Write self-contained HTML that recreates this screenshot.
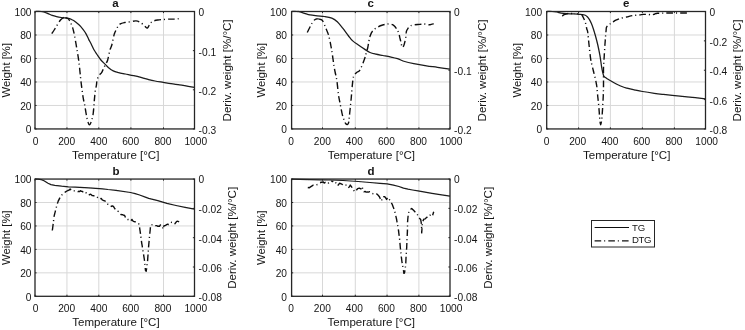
<!DOCTYPE html>
<html><head><meta charset="utf-8"><style>
html,body{margin:0;padding:0;background:#fff;}
svg{display:block;}
text{font-family:"Liberation Sans", sans-serif;fill:#151515;}
</style></head><body>
<svg width="745" height="330" viewBox="0 0 745 330">
<defs><filter id="bl" filterUnits="userSpaceOnUse" x="0" y="0" width="745" height="330"><feGaussianBlur stdDeviation="0.45"/></filter></defs>
<rect width="745" height="330" fill="#fff"/>
<g filter="url(#bl)">
<line x1="66.95" y1="11.5" x2="66.95" y2="128.95" stroke="#d8d8d8" stroke-width="1"/>
<line x1="35.0" y1="105.46" x2="194.5" y2="105.46" stroke="#d8d8d8" stroke-width="1"/>
<line x1="98.80" y1="11.5" x2="98.80" y2="128.95" stroke="#d8d8d8" stroke-width="1"/>
<line x1="35.0" y1="81.97" x2="194.5" y2="81.97" stroke="#d8d8d8" stroke-width="1"/>
<line x1="130.90" y1="11.5" x2="130.90" y2="128.95" stroke="#d8d8d8" stroke-width="1"/>
<line x1="35.0" y1="58.48" x2="194.5" y2="58.48" stroke="#d8d8d8" stroke-width="1"/>
<line x1="163.50" y1="11.5" x2="163.50" y2="128.95" stroke="#d8d8d8" stroke-width="1"/>
<line x1="35.0" y1="34.99" x2="194.5" y2="34.99" stroke="#d8d8d8" stroke-width="1"/>
<path d="M35.10,11.50 C36.08,11.50 39.52,11.42 41.00,11.50 C42.48,11.58 42.83,11.65 44.00,12.00 C45.17,12.35 46.63,13.03 48.00,13.60 C49.37,14.17 50.78,14.90 52.20,15.40 C53.62,15.90 54.98,16.25 56.50,16.60 C58.02,16.95 59.88,17.28 61.30,17.50 C62.72,17.72 63.80,17.75 65.00,17.90 C66.20,18.05 67.33,18.10 68.50,18.40 C69.67,18.70 70.92,19.18 72.00,19.70 C73.08,20.22 73.75,20.57 75.00,21.50 C76.25,22.43 78.10,23.90 79.50,25.30 C80.90,26.70 82.33,28.52 83.40,29.90 C84.47,31.28 85.03,32.07 85.90,33.60 C86.77,35.13 87.68,37.28 88.60,39.10 C89.52,40.92 90.48,42.68 91.40,44.50 C92.32,46.32 93.17,48.33 94.10,50.00 C95.03,51.67 95.87,52.83 97.00,54.50 C98.13,56.17 99.57,58.40 100.90,60.00 C102.23,61.60 103.72,62.82 105.00,64.10 C106.28,65.38 107.23,66.57 108.60,67.70 C109.97,68.83 111.53,70.08 113.20,70.90 C114.87,71.72 116.58,72.08 118.60,72.60 C120.62,73.12 122.78,73.48 125.30,74.00 C127.82,74.52 130.95,75.08 133.70,75.70 C136.45,76.32 139.30,77.05 141.80,77.70 C144.30,78.35 146.50,79.05 148.70,79.60 C150.90,80.15 152.57,80.53 155.00,81.00 C157.43,81.47 160.63,81.95 163.30,82.40 C165.97,82.85 168.28,83.28 171.00,83.70 C173.72,84.12 176.93,84.50 179.60,84.90 C182.27,85.30 184.53,85.70 187.00,86.10 C189.47,86.50 193.17,87.10 194.40,87.30" fill="none" stroke="#1a1a1a" stroke-width="1.25" stroke-linejoin="round"/>
<path id="dtga0" d="M51.80,33.60 C52.25,32.92 53.55,31.02 54.50,29.50 C55.45,27.98 56.50,26.08 57.50,24.50 C58.50,22.92 59.57,21.12 60.50,20.00 C61.43,18.88 62.27,18.20 63.10,17.80 C63.93,17.40 64.75,17.53 65.50,17.60" fill="none" stroke="#111" stroke-width="1.4" stroke-dasharray="6.6 2.9 1.1 3.1" stroke-dashoffset="0.00" stroke-linejoin="round"/>
<path id="dtga" d="M65.50,17.60 C66.25,17.67 66.93,17.72 67.60,18.20 C68.27,18.68 68.73,19.13 69.50,20.50 C70.27,21.87 71.45,24.32 72.20,26.40 C72.95,28.48 73.40,30.28 74.00,33.00 C74.60,35.72 75.27,39.70 75.80,42.70 C76.33,45.70 76.75,48.27 77.20,51.00 C77.65,53.73 78.10,56.27 78.50,59.10 C78.90,61.93 79.20,64.37 79.60,68.00 C80.00,71.63 80.32,76.02 80.90,80.90 C81.48,85.78 82.48,93.37 83.10,97.30 C83.72,101.23 84.08,101.70 84.60,104.50 C85.12,107.30 85.67,111.27 86.20,114.10 C86.73,116.93 87.27,119.73 87.80,121.50 C88.33,123.27 88.82,124.70 89.40,124.70 C89.98,124.70 90.68,123.27 91.30,121.50 C91.92,119.73 92.63,117.10 93.10,114.10 C93.57,111.10 93.85,106.30 94.10,103.50 C94.35,100.70 94.37,99.63 94.60,97.30 C94.83,94.97 95.20,91.47 95.50,89.50 C95.80,87.53 96.18,86.78 96.40,85.50 C96.62,84.22 96.58,83.02 96.80,81.80 C97.02,80.58 97.25,79.33 97.70,78.20 C98.15,77.07 98.82,75.98 99.50,75.00 C100.18,74.02 101.12,73.43 101.80,72.30 C102.48,71.17 102.92,69.65 103.60,68.20 C104.28,66.75 105.22,64.97 105.90,63.60 C106.58,62.23 107.05,62.18 107.70,60.00 C108.35,57.82 109.12,53.00 109.80,50.50 C110.48,48.00 111.13,47.45 111.80,45.00 C112.47,42.55 113.25,37.97 113.80,35.80 C114.35,33.63 114.50,33.42 115.10,32.00 C115.70,30.58 116.53,28.65 117.40,27.30 C118.27,25.95 119.08,24.70 120.30,23.90 C121.52,23.10 123.00,22.85 124.70,22.50 C126.40,22.15 128.62,22.07 130.50,21.80 C132.38,21.53 134.33,20.78 136.00,20.90 C137.67,21.02 139.07,21.65 140.50,22.50 C141.93,23.35 143.45,25.08 144.60,26.00 C145.75,26.92 146.55,28.30 147.40,28.00 C148.25,27.70 148.87,25.30 149.70,24.20 C150.53,23.10 151.05,22.10 152.40,21.40 C153.75,20.70 155.98,20.32 157.80,20.00 C159.62,19.68 161.48,19.65 163.30,19.50 C165.12,19.35 166.88,19.17 168.70,19.10 C170.52,19.03 172.53,19.17 174.20,19.10 C175.87,19.03 177.95,18.77 178.70,18.70" fill="none" stroke="#111" stroke-width="1.4" stroke-dasharray="6.6 2.9 1.1 3.1" stroke-dashoffset="1.00" stroke-linejoin="round"/>
<rect x="35.0" y="11.5" width="159.50" height="117.45" fill="none" stroke="#262626" stroke-width="1.3"/>
<line x1="35.00" y1="128.95" x2="35.00" y2="127.35" stroke="#262626" stroke-width="1"/>
<line x1="35.00" y1="11.5" x2="35.00" y2="13.1" stroke="#262626" stroke-width="1"/>
<line x1="35.0" y1="128.95" x2="36.6" y2="128.95" stroke="#262626" stroke-width="1"/>
<line x1="66.95" y1="128.95" x2="66.95" y2="127.35" stroke="#262626" stroke-width="1"/>
<line x1="66.95" y1="11.5" x2="66.95" y2="13.1" stroke="#262626" stroke-width="1"/>
<line x1="35.0" y1="105.46" x2="36.6" y2="105.46" stroke="#262626" stroke-width="1"/>
<line x1="98.80" y1="128.95" x2="98.80" y2="127.35" stroke="#262626" stroke-width="1"/>
<line x1="98.80" y1="11.5" x2="98.80" y2="13.1" stroke="#262626" stroke-width="1"/>
<line x1="35.0" y1="81.97" x2="36.6" y2="81.97" stroke="#262626" stroke-width="1"/>
<line x1="130.90" y1="128.95" x2="130.90" y2="127.35" stroke="#262626" stroke-width="1"/>
<line x1="130.90" y1="11.5" x2="130.90" y2="13.1" stroke="#262626" stroke-width="1"/>
<line x1="35.0" y1="58.48" x2="36.6" y2="58.48" stroke="#262626" stroke-width="1"/>
<line x1="163.50" y1="128.95" x2="163.50" y2="127.35" stroke="#262626" stroke-width="1"/>
<line x1="163.50" y1="11.5" x2="163.50" y2="13.1" stroke="#262626" stroke-width="1"/>
<line x1="35.0" y1="34.99" x2="36.6" y2="34.99" stroke="#262626" stroke-width="1"/>
<line x1="194.50" y1="128.95" x2="194.50" y2="127.35" stroke="#262626" stroke-width="1"/>
<line x1="194.50" y1="11.5" x2="194.50" y2="13.1" stroke="#262626" stroke-width="1"/>
<line x1="35.0" y1="11.50" x2="36.6" y2="11.50" stroke="#262626" stroke-width="1"/>
<line x1="194.5" y1="11.50" x2="192.9" y2="11.50" stroke="#262626" stroke-width="1"/>
<line x1="194.5" y1="50.65" x2="192.9" y2="50.65" stroke="#262626" stroke-width="1"/>
<line x1="194.5" y1="89.80" x2="192.9" y2="89.80" stroke="#262626" stroke-width="1"/>
<line x1="194.5" y1="128.95" x2="192.9" y2="128.95" stroke="#262626" stroke-width="1"/>
<text x="35.60" y="144.55" font-size="10.2" text-anchor="middle">0</text>
<text x="31.50" y="133.35" font-size="10.2" text-anchor="end">0</text>
<text x="66.70" y="144.55" font-size="10.2" text-anchor="middle">200</text>
<text x="31.50" y="109.86" font-size="10.2" text-anchor="end">20</text>
<text x="98.85" y="144.55" font-size="10.2" text-anchor="middle">400</text>
<text x="31.50" y="86.37" font-size="10.2" text-anchor="end">40</text>
<text x="130.70" y="144.55" font-size="10.2" text-anchor="middle">600</text>
<text x="31.50" y="62.88" font-size="10.2" text-anchor="end">60</text>
<text x="162.90" y="144.55" font-size="10.2" text-anchor="middle">800</text>
<text x="31.50" y="39.39" font-size="10.2" text-anchor="end">80</text>
<text x="195.80" y="144.55" font-size="10.2" text-anchor="middle">1000</text>
<text x="31.50" y="15.90" font-size="10.2" text-anchor="end">100</text>
<text x="198.60" y="15.90" font-size="10.2" text-anchor="start">0</text>
<text x="198.60" y="55.65" font-size="10.2" text-anchor="start">-0.1</text>
<text x="198.60" y="94.80" font-size="10.2" text-anchor="start">-0.2</text>
<text x="198.60" y="133.95" font-size="10.2" text-anchor="start">-0.3</text>
<text x="115.70" y="158.85" font-size="11.55" text-anchor="middle">Temperature [°C]</text>
<text x="10.30" y="70.22" font-size="11.35" text-anchor="middle" transform="rotate(-90 10.30 70.22)">Weight [%]</text>
<text x="231.10" y="70.42" font-size="11.55" text-anchor="middle" transform="rotate(-90 231.10 70.42)">Deriv. weight [%/°C]</text>
<text x="115.35" y="7.20" font-size="11.5" text-anchor="middle" font-weight="bold">a</text>
<line x1="322.50" y1="11.5" x2="322.50" y2="128.95" stroke="#d8d8d8" stroke-width="1"/>
<line x1="291.6" y1="105.46" x2="450.0" y2="105.46" stroke="#d8d8d8" stroke-width="1"/>
<line x1="355.30" y1="11.5" x2="355.30" y2="128.95" stroke="#d8d8d8" stroke-width="1"/>
<line x1="291.6" y1="81.97" x2="450.0" y2="81.97" stroke="#d8d8d8" stroke-width="1"/>
<line x1="387.05" y1="11.5" x2="387.05" y2="128.95" stroke="#d8d8d8" stroke-width="1"/>
<line x1="291.6" y1="58.48" x2="450.0" y2="58.48" stroke="#d8d8d8" stroke-width="1"/>
<line x1="418.90" y1="11.5" x2="418.90" y2="128.95" stroke="#d8d8d8" stroke-width="1"/>
<line x1="291.6" y1="34.99" x2="450.0" y2="34.99" stroke="#d8d8d8" stroke-width="1"/>
<path d="M291.40,11.50 C292.33,11.50 295.72,11.47 297.00,11.50 C298.28,11.53 297.85,11.40 299.10,11.70 C300.35,12.00 302.68,12.77 304.50,13.30 C306.32,13.83 307.87,14.48 310.00,14.90 C312.13,15.32 314.88,15.53 317.30,15.80 C319.72,16.07 322.08,16.10 324.50,16.50 C326.92,16.90 329.67,17.32 331.80,18.20 C333.93,19.08 335.48,20.13 337.30,21.80 C339.12,23.47 340.88,25.92 342.70,28.20 C344.52,30.48 346.53,33.38 348.20,35.50 C349.87,37.62 350.88,39.23 352.70,40.90 C354.52,42.57 357.13,44.13 359.10,45.50 C361.07,46.87 362.68,47.93 364.50,49.10 C366.32,50.27 368.08,51.65 370.00,52.50 C371.92,53.35 373.85,53.70 376.00,54.20 C378.15,54.70 380.53,55.05 382.90,55.50 C385.27,55.95 387.77,56.37 390.20,56.90 C392.63,57.43 395.08,57.93 397.50,58.70 C399.92,59.47 401.98,60.68 404.70,61.50 C407.42,62.32 410.17,62.88 413.80,63.60 C417.43,64.32 422.55,65.18 426.50,65.80 C430.45,66.42 433.60,66.73 437.50,67.30 C441.40,67.87 447.83,68.88 449.90,69.20" fill="none" stroke="#1a1a1a" stroke-width="1.25" stroke-linejoin="round"/>
<path id="dtgc0" d="M307.30,32.50 C307.67,31.75 308.75,29.50 309.50,28.00 C310.25,26.50 310.97,24.85 311.80,23.50 C312.63,22.15 313.77,20.65 314.50,19.90 C315.23,19.15 315.58,19.17 316.20,19.00 C316.82,18.83 317.53,18.83 318.20,18.90" fill="none" stroke="#111" stroke-width="1.4" stroke-dasharray="6.6 2.9 1.1 3.1" stroke-dashoffset="0.00" stroke-linejoin="round"/>
<path id="dtgc" d="M318.20,18.90 C318.87,18.97 319.48,19.12 320.20,19.40 C320.92,19.68 321.60,19.23 322.50,20.60 C323.40,21.97 324.58,25.17 325.60,27.60 C326.62,30.03 327.72,32.17 328.60,35.20 C329.48,38.23 330.27,42.53 330.90,45.80 C331.53,49.07 331.90,51.52 332.40,54.80 C332.90,58.08 333.45,62.63 333.90,65.50 C334.35,68.37 334.60,69.43 335.10,72.00 C335.60,74.57 336.33,77.07 336.90,80.90 C337.47,84.73 337.97,91.23 338.50,95.00 C339.03,98.77 339.48,100.32 340.10,103.50 C340.72,106.68 341.50,111.27 342.20,114.10 C342.90,116.93 343.73,118.93 344.30,120.50 C344.87,122.07 345.10,122.82 345.60,123.50 C346.10,124.18 346.82,124.68 347.30,124.60 C347.78,124.52 348.22,123.68 348.50,123.00 C348.78,122.32 348.82,121.98 349.00,120.50 C349.18,119.02 349.32,116.93 349.60,114.10 C349.88,111.27 350.38,106.68 350.70,103.50 C351.02,100.32 351.22,98.17 351.50,95.00 C351.78,91.83 352.05,87.60 352.40,84.50 C352.75,81.40 352.93,78.37 353.60,76.40 C354.27,74.43 355.33,73.77 356.40,72.70 C357.47,71.63 358.65,72.27 360.00,70.00 C361.35,67.73 363.42,62.10 364.50,59.10 C365.58,56.10 365.95,53.93 366.50,52.00 C367.05,50.07 367.38,49.38 367.80,47.50 C368.22,45.62 368.60,42.65 369.00,40.70 C369.40,38.75 369.60,37.42 370.20,35.80 C370.80,34.18 371.58,32.30 372.60,31.00 C373.62,29.70 374.88,28.92 376.30,28.00 C377.72,27.08 379.48,26.12 381.10,25.50 C382.72,24.88 384.58,24.57 386.00,24.30 C387.42,24.03 388.55,23.85 389.60,23.90 C390.65,23.95 391.55,24.30 392.30,24.60 C393.05,24.90 393.38,25.00 394.10,25.70 C394.82,26.40 395.83,27.58 396.60,28.80 C397.37,30.02 398.18,31.62 398.70,33.00 C399.22,34.38 399.35,35.65 399.70,37.10 C400.05,38.55 400.37,39.98 400.80,41.70 C401.23,43.42 401.78,46.80 402.30,47.40 C402.82,48.00 403.47,46.25 403.90,45.30 C404.33,44.35 404.57,43.15 404.90,41.70 C405.23,40.25 405.65,38.32 405.90,36.60 C406.15,34.88 406.05,32.78 406.40,31.40 C406.75,30.02 407.30,29.25 408.00,28.30 C408.70,27.35 409.48,26.30 410.60,25.70 C411.72,25.10 413.17,24.92 414.70,24.70 C416.23,24.48 418.25,24.52 419.80,24.40 C421.35,24.28 422.72,23.97 424.00,24.00 C425.28,24.03 426.50,24.47 427.50,24.60 C428.50,24.73 429.25,24.88 430.00,24.80 C430.75,24.72 431.37,24.25 432.00,24.10 C432.63,23.95 433.50,23.93 433.80,23.90" fill="none" stroke="#111" stroke-width="1.4" stroke-dasharray="6.6 2.9 1.1 3.1" stroke-dashoffset="0.00" stroke-linejoin="round"/>
<rect x="291.6" y="11.5" width="158.40" height="117.45" fill="none" stroke="#262626" stroke-width="1.3"/>
<line x1="291.60" y1="128.95" x2="291.60" y2="127.35" stroke="#262626" stroke-width="1"/>
<line x1="291.60" y1="11.5" x2="291.60" y2="13.1" stroke="#262626" stroke-width="1"/>
<line x1="291.6" y1="128.95" x2="293.20000000000005" y2="128.95" stroke="#262626" stroke-width="1"/>
<line x1="322.50" y1="128.95" x2="322.50" y2="127.35" stroke="#262626" stroke-width="1"/>
<line x1="322.50" y1="11.5" x2="322.50" y2="13.1" stroke="#262626" stroke-width="1"/>
<line x1="291.6" y1="105.46" x2="293.20000000000005" y2="105.46" stroke="#262626" stroke-width="1"/>
<line x1="355.30" y1="128.95" x2="355.30" y2="127.35" stroke="#262626" stroke-width="1"/>
<line x1="355.30" y1="11.5" x2="355.30" y2="13.1" stroke="#262626" stroke-width="1"/>
<line x1="291.6" y1="81.97" x2="293.20000000000005" y2="81.97" stroke="#262626" stroke-width="1"/>
<line x1="387.05" y1="128.95" x2="387.05" y2="127.35" stroke="#262626" stroke-width="1"/>
<line x1="387.05" y1="11.5" x2="387.05" y2="13.1" stroke="#262626" stroke-width="1"/>
<line x1="291.6" y1="58.48" x2="293.20000000000005" y2="58.48" stroke="#262626" stroke-width="1"/>
<line x1="418.90" y1="128.95" x2="418.90" y2="127.35" stroke="#262626" stroke-width="1"/>
<line x1="418.90" y1="11.5" x2="418.90" y2="13.1" stroke="#262626" stroke-width="1"/>
<line x1="291.6" y1="34.99" x2="293.20000000000005" y2="34.99" stroke="#262626" stroke-width="1"/>
<line x1="450.00" y1="128.95" x2="450.00" y2="127.35" stroke="#262626" stroke-width="1"/>
<line x1="450.00" y1="11.5" x2="450.00" y2="13.1" stroke="#262626" stroke-width="1"/>
<line x1="291.6" y1="11.50" x2="293.20000000000005" y2="11.50" stroke="#262626" stroke-width="1"/>
<line x1="450.0" y1="11.50" x2="448.4" y2="11.50" stroke="#262626" stroke-width="1"/>
<line x1="450.0" y1="70.22" x2="448.4" y2="70.22" stroke="#262626" stroke-width="1"/>
<line x1="450.0" y1="128.95" x2="448.4" y2="128.95" stroke="#262626" stroke-width="1"/>
<text x="291.10" y="144.55" font-size="10.2" text-anchor="middle">0</text>
<text x="287.00" y="133.35" font-size="10.2" text-anchor="end">0</text>
<text x="322.35" y="144.55" font-size="10.2" text-anchor="middle">200</text>
<text x="287.00" y="109.86" font-size="10.2" text-anchor="end">20</text>
<text x="354.30" y="144.55" font-size="10.2" text-anchor="middle">400</text>
<text x="287.00" y="86.37" font-size="10.2" text-anchor="end">40</text>
<text x="386.40" y="144.55" font-size="10.2" text-anchor="middle">600</text>
<text x="287.00" y="62.88" font-size="10.2" text-anchor="end">60</text>
<text x="418.50" y="144.55" font-size="10.2" text-anchor="middle">800</text>
<text x="287.00" y="39.39" font-size="10.2" text-anchor="end">80</text>
<text x="451.10" y="144.55" font-size="10.2" text-anchor="middle">1000</text>
<text x="287.00" y="15.90" font-size="10.2" text-anchor="end">100</text>
<text x="454.10" y="15.90" font-size="10.2" text-anchor="start">0</text>
<text x="454.10" y="75.22" font-size="10.2" text-anchor="start">-0.1</text>
<text x="454.10" y="133.95" font-size="10.2" text-anchor="start">-0.2</text>
<text x="371.35" y="158.85" font-size="11.55" text-anchor="middle">Temperature [°C]</text>
<text x="265.20" y="70.22" font-size="11.35" text-anchor="middle" transform="rotate(-90 265.20 70.22)">Weight [%]</text>
<text x="485.90" y="70.42" font-size="11.55" text-anchor="middle" transform="rotate(-90 485.90 70.42)">Deriv. weight [%/°C]</text>
<text x="370.80" y="7.20" font-size="11.5" text-anchor="middle" font-weight="bold">c</text>
<line x1="578.60" y1="11.5" x2="578.60" y2="128.95" stroke="#d8d8d8" stroke-width="1"/>
<line x1="546.7" y1="105.46" x2="705.5" y2="105.46" stroke="#d8d8d8" stroke-width="1"/>
<line x1="610.40" y1="11.5" x2="610.40" y2="128.95" stroke="#d8d8d8" stroke-width="1"/>
<line x1="546.7" y1="81.97" x2="705.5" y2="81.97" stroke="#d8d8d8" stroke-width="1"/>
<line x1="642.40" y1="11.5" x2="642.40" y2="128.95" stroke="#d8d8d8" stroke-width="1"/>
<line x1="546.7" y1="58.48" x2="705.5" y2="58.48" stroke="#d8d8d8" stroke-width="1"/>
<line x1="674.40" y1="11.5" x2="674.40" y2="128.95" stroke="#d8d8d8" stroke-width="1"/>
<line x1="546.7" y1="34.99" x2="705.5" y2="34.99" stroke="#d8d8d8" stroke-width="1"/>
<path d="M546.70,11.50 C547.58,11.50 550.32,11.42 552.00,11.50 C553.68,11.58 555.28,11.73 556.80,12.00 C558.32,12.27 559.48,12.82 561.10,13.10 C562.72,13.38 564.68,13.57 566.50,13.70 C568.32,13.83 570.20,13.83 572.00,13.90 C573.80,13.97 575.75,14.00 577.30,14.10 C578.85,14.20 580.07,14.35 581.30,14.50 C582.53,14.65 583.70,14.63 584.70,15.00 C585.70,15.37 586.53,15.98 587.30,16.70 C588.07,17.42 588.63,18.20 589.30,19.30 C589.97,20.40 590.63,21.73 591.30,23.30 C591.97,24.87 592.60,26.58 593.30,28.70 C594.00,30.82 594.75,33.28 595.50,36.00 C596.25,38.72 597.05,41.68 597.80,45.00 C598.55,48.32 599.37,52.27 600.00,55.90 C600.63,59.53 601.15,64.07 601.60,66.80 C602.05,69.53 602.33,70.75 602.70,72.30 C603.07,73.85 603.33,75.22 603.80,76.10 C604.27,76.98 604.88,77.12 605.50,77.60 C606.12,78.08 606.58,78.43 607.50,79.00 C608.42,79.57 609.45,80.13 611.00,81.00 C612.55,81.87 614.77,83.20 616.80,84.20 C618.83,85.20 621.50,86.35 623.20,87.00 C624.90,87.65 625.15,87.63 627.00,88.10 C628.85,88.57 631.72,89.23 634.30,89.80 C636.88,90.37 639.17,90.92 642.50,91.50 C645.83,92.08 650.82,92.82 654.30,93.30 C657.78,93.78 660.02,94.02 663.40,94.40 C666.78,94.78 670.67,95.18 674.60,95.60 C678.53,96.02 681.85,96.37 687.00,96.90 C692.15,97.43 702.42,98.48 705.50,98.80" fill="none" stroke="#1a1a1a" stroke-width="1.25" stroke-linejoin="round"/>
<path id="dtge0" d="M562.30,16.10 C562.60,15.85 563.05,15.03 564.10,14.60 C565.15,14.17 566.93,13.67 568.60,13.50 C570.27,13.33 572.12,13.52 574.10,13.60" fill="none" stroke="#111" stroke-width="1.4" stroke-dasharray="6.6 2.9 1.1 3.1" stroke-dashoffset="0.00" stroke-linejoin="round"/>
<path id="dtge" d="M574.10,13.60 C576.08,13.68 579.12,13.63 580.50,14.00 C581.88,14.37 581.82,14.97 582.40,15.80 C582.98,16.63 583.47,17.75 584.00,19.00 C584.53,20.25 585.13,21.63 585.60,23.30 C586.07,24.97 586.45,27.55 586.80,29.00 C587.15,30.45 587.32,29.25 587.70,32.00 C588.08,34.75 588.60,40.97 589.10,45.50 C589.60,50.03 590.15,55.65 590.70,59.20 C591.25,62.75 591.85,64.43 592.40,66.80 C592.95,69.17 593.47,71.22 594.00,73.40 C594.53,75.58 595.13,77.73 595.60,79.90 C596.07,82.07 596.47,83.88 596.80,86.40 C597.13,88.92 597.30,91.98 597.60,95.00 C597.90,98.02 598.30,101.32 598.60,104.50 C598.90,107.68 599.18,111.35 599.40,114.10 C599.62,116.85 599.68,119.22 599.90,121.00 C600.12,122.78 600.43,124.80 600.70,124.80 C600.97,124.80 601.25,122.78 601.50,121.00 C601.75,119.22 601.98,116.85 602.20,114.10 C602.42,111.35 602.62,107.68 602.80,104.50 C602.98,101.32 603.18,98.02 603.30,95.00 C603.42,91.98 603.47,89.65 603.50,86.40 C603.53,83.15 603.50,78.68 603.50,75.50 C603.50,72.32 603.40,70.20 603.50,67.30 C603.60,64.40 603.87,61.82 604.10,58.10 C604.33,54.38 604.65,48.68 604.90,45.00 C605.15,41.32 605.40,38.42 605.60,36.00 C605.80,33.58 605.95,31.95 606.10,30.50 C606.25,29.05 606.05,28.25 606.50,27.30 C606.95,26.35 608.08,25.45 608.80,24.80 C609.52,24.15 610.17,23.82 610.80,23.40 C611.43,22.98 611.77,22.83 612.60,22.30 C613.43,21.77 614.62,20.82 615.80,20.20 C616.98,19.58 618.50,19.02 619.70,18.60 C620.90,18.18 621.82,17.97 623.00,17.70 C624.18,17.43 625.67,17.27 626.80,17.00 C627.93,16.73 628.72,16.35 629.80,16.10 C630.88,15.85 632.18,15.65 633.30,15.50 C634.42,15.35 635.38,15.30 636.50,15.20 C637.62,15.10 638.83,15.03 640.00,14.90 C641.17,14.77 642.10,14.48 643.50,14.40 C644.90,14.32 647.05,14.30 648.40,14.40 C649.75,14.50 650.53,15.07 651.60,15.00 C652.67,14.93 653.85,14.28 654.80,14.00 C655.75,13.72 655.87,13.45 657.30,13.30 C658.73,13.15 660.87,13.15 663.40,13.10 C665.93,13.05 669.48,13.02 672.50,13.00 C675.52,12.98 678.77,13.00 681.50,13.00 C684.23,13.00 687.67,13.00 688.90,13.00" fill="none" stroke="#111" stroke-width="1.4" stroke-dasharray="6.6 2.9 1.1 3.1" stroke-dashoffset="6.35" stroke-linejoin="round"/>
<rect x="546.7" y="11.5" width="158.80" height="117.45" fill="none" stroke="#262626" stroke-width="1.3"/>
<line x1="546.70" y1="128.95" x2="546.70" y2="127.35" stroke="#262626" stroke-width="1"/>
<line x1="546.70" y1="11.5" x2="546.70" y2="13.1" stroke="#262626" stroke-width="1"/>
<line x1="546.7" y1="128.95" x2="548.3000000000001" y2="128.95" stroke="#262626" stroke-width="1"/>
<line x1="578.60" y1="128.95" x2="578.60" y2="127.35" stroke="#262626" stroke-width="1"/>
<line x1="578.60" y1="11.5" x2="578.60" y2="13.1" stroke="#262626" stroke-width="1"/>
<line x1="546.7" y1="105.46" x2="548.3000000000001" y2="105.46" stroke="#262626" stroke-width="1"/>
<line x1="610.40" y1="128.95" x2="610.40" y2="127.35" stroke="#262626" stroke-width="1"/>
<line x1="610.40" y1="11.5" x2="610.40" y2="13.1" stroke="#262626" stroke-width="1"/>
<line x1="546.7" y1="81.97" x2="548.3000000000001" y2="81.97" stroke="#262626" stroke-width="1"/>
<line x1="642.40" y1="128.95" x2="642.40" y2="127.35" stroke="#262626" stroke-width="1"/>
<line x1="642.40" y1="11.5" x2="642.40" y2="13.1" stroke="#262626" stroke-width="1"/>
<line x1="546.7" y1="58.48" x2="548.3000000000001" y2="58.48" stroke="#262626" stroke-width="1"/>
<line x1="674.40" y1="128.95" x2="674.40" y2="127.35" stroke="#262626" stroke-width="1"/>
<line x1="674.40" y1="11.5" x2="674.40" y2="13.1" stroke="#262626" stroke-width="1"/>
<line x1="546.7" y1="34.99" x2="548.3000000000001" y2="34.99" stroke="#262626" stroke-width="1"/>
<line x1="705.50" y1="128.95" x2="705.50" y2="127.35" stroke="#262626" stroke-width="1"/>
<line x1="705.50" y1="11.5" x2="705.50" y2="13.1" stroke="#262626" stroke-width="1"/>
<line x1="546.7" y1="11.50" x2="548.3000000000001" y2="11.50" stroke="#262626" stroke-width="1"/>
<line x1="705.5" y1="11.50" x2="703.9" y2="11.50" stroke="#262626" stroke-width="1"/>
<line x1="705.5" y1="40.86" x2="703.9" y2="40.86" stroke="#262626" stroke-width="1"/>
<line x1="705.5" y1="70.22" x2="703.9" y2="70.22" stroke="#262626" stroke-width="1"/>
<line x1="705.5" y1="99.59" x2="703.9" y2="99.59" stroke="#262626" stroke-width="1"/>
<line x1="705.5" y1="128.95" x2="703.9" y2="128.95" stroke="#262626" stroke-width="1"/>
<text x="546.50" y="144.55" font-size="10.2" text-anchor="middle">0</text>
<text x="542.10" y="133.35" font-size="10.2" text-anchor="end">0</text>
<text x="577.70" y="144.55" font-size="10.2" text-anchor="middle">200</text>
<text x="542.10" y="109.86" font-size="10.2" text-anchor="end">20</text>
<text x="609.90" y="144.55" font-size="10.2" text-anchor="middle">400</text>
<text x="542.10" y="86.37" font-size="10.2" text-anchor="end">40</text>
<text x="641.70" y="144.55" font-size="10.2" text-anchor="middle">600</text>
<text x="542.10" y="62.88" font-size="10.2" text-anchor="end">60</text>
<text x="673.90" y="144.55" font-size="10.2" text-anchor="middle">800</text>
<text x="542.10" y="39.39" font-size="10.2" text-anchor="end">80</text>
<text x="706.70" y="144.55" font-size="10.2" text-anchor="middle">1000</text>
<text x="542.10" y="15.90" font-size="10.2" text-anchor="end">100</text>
<text x="709.60" y="15.90" font-size="10.2" text-anchor="start">0</text>
<text x="709.60" y="45.86" font-size="10.2" text-anchor="start">-0.2</text>
<text x="709.60" y="75.22" font-size="10.2" text-anchor="start">-0.4</text>
<text x="709.60" y="104.59" font-size="10.2" text-anchor="start">-0.6</text>
<text x="709.60" y="133.95" font-size="10.2" text-anchor="start">-0.8</text>
<text x="626.65" y="158.85" font-size="11.55" text-anchor="middle">Temperature [°C]</text>
<text x="520.80" y="70.22" font-size="11.35" text-anchor="middle" transform="rotate(-90 520.80 70.22)">Weight [%]</text>
<text x="741.30" y="70.42" font-size="11.55" text-anchor="middle" transform="rotate(-90 741.30 70.42)">Deriv. weight [%/°C]</text>
<text x="626.10" y="7.20" font-size="11.5" text-anchor="middle" font-weight="bold">e</text>
<line x1="66.95" y1="179.05" x2="66.95" y2="296.3" stroke="#d8d8d8" stroke-width="1"/>
<line x1="35.0" y1="272.85" x2="194.5" y2="272.85" stroke="#d8d8d8" stroke-width="1"/>
<line x1="98.80" y1="179.05" x2="98.80" y2="296.3" stroke="#d8d8d8" stroke-width="1"/>
<line x1="35.0" y1="249.40" x2="194.5" y2="249.40" stroke="#d8d8d8" stroke-width="1"/>
<line x1="130.90" y1="179.05" x2="130.90" y2="296.3" stroke="#d8d8d8" stroke-width="1"/>
<line x1="35.0" y1="225.95" x2="194.5" y2="225.95" stroke="#d8d8d8" stroke-width="1"/>
<line x1="163.50" y1="179.05" x2="163.50" y2="296.3" stroke="#d8d8d8" stroke-width="1"/>
<line x1="35.0" y1="202.50" x2="194.5" y2="202.50" stroke="#d8d8d8" stroke-width="1"/>
<path d="M35.00,179.05 L38.00,179.10 L41.30,179.60 L44.00,180.80 L48.00,183.20 L51.00,184.60 L54.80,185.40 L61.60,186.20 L68.50,186.80 L75.30,187.20 L88.90,187.80 L102.60,188.80 L108.00,189.50 L116.00,190.30 L130.50,192.50 L135.10,193.60 L139.60,195.00 L146.00,197.30 L148.70,198.40 L157.80,200.60 L166.90,203.40 L176.00,205.50 L185.10,207.40 L194.50,209.20" fill="none" stroke="#1a1a1a" stroke-width="1.25" stroke-linejoin="round"/>
<path id="dtgb0" d="M52.30,230.50 L52.80,227.00 L54.10,216.10 L55.50,210.60 L56.90,205.20 L58.20,201.10 L60.30,197.00 L62.30,194.30 L65.10,192.20 L67.80,190.50 L69.50,189.80 L70.20,188.60" fill="none" stroke="#111" stroke-width="1.4" stroke-dasharray="6.6 2.9 1.1 3.1" stroke-dashoffset="0.00" stroke-linejoin="round"/>
<path id="dtgb" d="M70.20,188.60 L70.90,189.90 L73.20,190.90 L74.13,190.83 L75.07,191.56 L76.00,191.80 L76.90,191.45 L77.80,191.61 L78.70,191.30 L79.60,191.48 L80.50,190.69 L81.40,191.30 L82.45,191.42 L83.50,192.90 L84.50,193.27 L85.50,192.70 L86.55,193.01 L87.60,194.00 L88.50,193.69 L89.40,194.83 L90.30,194.20 L91.20,194.63 L92.10,195.60 L93.00,195.60 L93.90,195.80 L94.80,196.26 L95.70,196.30 L96.75,196.51 L97.80,197.70 L99.20,199.10 L100.20,198.94 L101.20,198.40 L102.25,199.92 L103.30,200.40 L104.30,200.78 L105.30,201.10 L106.50,202.50 L108.30,205.00 L109.40,205.79 L110.50,205.90 L111.57,206.44 L112.63,205.89 L113.70,206.80 L114.85,208.76 L116.00,210.00 L117.20,211.03 L118.40,211.52 L119.60,212.70 L121.00,214.50 L122.80,214.80 L124.60,215.50 L126.00,218.60 L127.80,219.50 L128.95,219.54 L130.10,220.90 L131.00,220.66 L131.90,219.40 L133.30,221.40 L135.10,221.80 L136.00,222.36 L136.90,223.00 L139.10,224.10 L140.40,233.20 L141.60,242.30 L143.10,251.40 L144.50,260.50 L145.50,270.50 L146.20,271.20 L146.70,267.70 L147.60,260.50 L148.50,247.70 L149.50,236.80 L150.40,227.70 L151.30,224.60 L152.65,224.86 L154.00,224.50 L155.35,225.58 L156.70,225.60 L157.60,226.25 L158.50,226.30 L159.45,226.24 L160.40,225.00 L161.35,225.45 L162.30,226.20 L163.10,229.20 L164.00,225.60 L165.35,225.52 L166.70,224.60 L167.62,224.17 L168.55,224.51 L169.47,224.08 L170.40,223.20 L171.75,222.19 L173.10,222.30 L174.00,222.49 L174.90,223.70 L176.70,221.40 L177.90,221.25 L179.10,221.90" fill="none" stroke="#111" stroke-width="1.4" stroke-dasharray="6.6 2.9 1.1 3.1" stroke-dashoffset="5.00" stroke-linejoin="round"/>
<rect x="35.0" y="179.05" width="159.50" height="117.25" fill="none" stroke="#262626" stroke-width="1.3"/>
<line x1="35.00" y1="296.3" x2="35.00" y2="294.7" stroke="#262626" stroke-width="1"/>
<line x1="35.00" y1="179.05" x2="35.00" y2="180.65" stroke="#262626" stroke-width="1"/>
<line x1="35.0" y1="296.30" x2="36.6" y2="296.30" stroke="#262626" stroke-width="1"/>
<line x1="66.95" y1="296.3" x2="66.95" y2="294.7" stroke="#262626" stroke-width="1"/>
<line x1="66.95" y1="179.05" x2="66.95" y2="180.65" stroke="#262626" stroke-width="1"/>
<line x1="35.0" y1="272.85" x2="36.6" y2="272.85" stroke="#262626" stroke-width="1"/>
<line x1="98.80" y1="296.3" x2="98.80" y2="294.7" stroke="#262626" stroke-width="1"/>
<line x1="98.80" y1="179.05" x2="98.80" y2="180.65" stroke="#262626" stroke-width="1"/>
<line x1="35.0" y1="249.40" x2="36.6" y2="249.40" stroke="#262626" stroke-width="1"/>
<line x1="130.90" y1="296.3" x2="130.90" y2="294.7" stroke="#262626" stroke-width="1"/>
<line x1="130.90" y1="179.05" x2="130.90" y2="180.65" stroke="#262626" stroke-width="1"/>
<line x1="35.0" y1="225.95" x2="36.6" y2="225.95" stroke="#262626" stroke-width="1"/>
<line x1="163.50" y1="296.3" x2="163.50" y2="294.7" stroke="#262626" stroke-width="1"/>
<line x1="163.50" y1="179.05" x2="163.50" y2="180.65" stroke="#262626" stroke-width="1"/>
<line x1="35.0" y1="202.50" x2="36.6" y2="202.50" stroke="#262626" stroke-width="1"/>
<line x1="194.50" y1="296.3" x2="194.50" y2="294.7" stroke="#262626" stroke-width="1"/>
<line x1="194.50" y1="179.05" x2="194.50" y2="180.65" stroke="#262626" stroke-width="1"/>
<line x1="35.0" y1="179.05" x2="36.6" y2="179.05" stroke="#262626" stroke-width="1"/>
<line x1="194.5" y1="179.05" x2="192.9" y2="179.05" stroke="#262626" stroke-width="1"/>
<line x1="194.5" y1="208.36" x2="192.9" y2="208.36" stroke="#262626" stroke-width="1"/>
<line x1="194.5" y1="237.68" x2="192.9" y2="237.68" stroke="#262626" stroke-width="1"/>
<line x1="194.5" y1="266.99" x2="192.9" y2="266.99" stroke="#262626" stroke-width="1"/>
<line x1="194.5" y1="296.30" x2="192.9" y2="296.30" stroke="#262626" stroke-width="1"/>
<text x="35.60" y="311.90" font-size="10.2" text-anchor="middle">0</text>
<text x="31.50" y="300.70" font-size="10.2" text-anchor="end">0</text>
<text x="66.70" y="311.90" font-size="10.2" text-anchor="middle">200</text>
<text x="31.50" y="277.25" font-size="10.2" text-anchor="end">20</text>
<text x="98.85" y="311.90" font-size="10.2" text-anchor="middle">400</text>
<text x="31.50" y="253.80" font-size="10.2" text-anchor="end">40</text>
<text x="130.70" y="311.90" font-size="10.2" text-anchor="middle">600</text>
<text x="31.50" y="230.35" font-size="10.2" text-anchor="end">60</text>
<text x="162.90" y="311.90" font-size="10.2" text-anchor="middle">800</text>
<text x="31.50" y="206.90" font-size="10.2" text-anchor="end">80</text>
<text x="195.80" y="311.90" font-size="10.2" text-anchor="middle">1000</text>
<text x="31.50" y="183.45" font-size="10.2" text-anchor="end">100</text>
<text x="198.60" y="183.45" font-size="10.2" text-anchor="start">0</text>
<text x="198.60" y="213.36" font-size="10.2" text-anchor="start">-0.02</text>
<text x="198.60" y="242.68" font-size="10.2" text-anchor="start">-0.04</text>
<text x="198.60" y="271.99" font-size="10.2" text-anchor="start">-0.06</text>
<text x="198.60" y="301.30" font-size="10.2" text-anchor="start">-0.08</text>
<text x="115.90" y="326.20" font-size="11.55" text-anchor="middle">Temperature [°C]</text>
<text x="10.30" y="237.68" font-size="11.35" text-anchor="middle" transform="rotate(-90 10.30 237.68)">Weight [%]</text>
<text x="236.30" y="237.88" font-size="11.55" text-anchor="middle" transform="rotate(-90 236.30 237.88)">Deriv. weight [%/°C]</text>
<text x="116.00" y="174.75" font-size="11.5" text-anchor="middle" font-weight="bold">b</text>
<line x1="322.50" y1="179.05" x2="322.50" y2="296.3" stroke="#d8d8d8" stroke-width="1"/>
<line x1="291.6" y1="272.85" x2="450.0" y2="272.85" stroke="#d8d8d8" stroke-width="1"/>
<line x1="355.30" y1="179.05" x2="355.30" y2="296.3" stroke="#d8d8d8" stroke-width="1"/>
<line x1="291.6" y1="249.40" x2="450.0" y2="249.40" stroke="#d8d8d8" stroke-width="1"/>
<line x1="387.05" y1="179.05" x2="387.05" y2="296.3" stroke="#d8d8d8" stroke-width="1"/>
<line x1="291.6" y1="225.95" x2="450.0" y2="225.95" stroke="#d8d8d8" stroke-width="1"/>
<line x1="418.90" y1="179.05" x2="418.90" y2="296.3" stroke="#d8d8d8" stroke-width="1"/>
<line x1="291.6" y1="202.50" x2="450.0" y2="202.50" stroke="#d8d8d8" stroke-width="1"/>
<path d="M291.60,179.05 L300.00,179.30 L310.00,179.60 L320.00,179.80 L330.00,180.00 L343.00,180.50 L358.20,181.50 L370.00,182.50 L380.00,183.30 L387.10,183.90 L393.50,185.10 L398.90,186.50 L403.50,188.20 L408.00,189.20 L412.50,190.00 L418.00,190.90 L425.00,192.10 L432.00,193.30 L440.00,194.60 L450.00,196.10" fill="none" stroke="#1a1a1a" stroke-width="1.25" stroke-linejoin="round"/>
<path id="dtgd0" d="M307.80,187.50 L309.10,187.80 L310.90,186.60 L313.30,185.10 L315.70,185.10 L317.50,184.50 L319.40,183.30 L320.30,182.87 L321.20,182.10 L322.10,182.29 L323.00,181.80 L324.20,183.00 L325.40,182.40 L326.30,182.51 L327.20,181.80 L328.50,183.00 L329.70,181.80 L330.60,182.12 L331.50,181.20 L332.40,181.54 L333.30,181.20" fill="none" stroke="#111" stroke-width="1.4" stroke-dasharray="6.6 2.9 1.1 3.1" stroke-dashoffset="0.00" stroke-linejoin="round"/>
<path id="dtgd" d="M333.30,181.20 L334.50,182.54 L335.70,182.70 L336.90,183.60 L337.80,185.70 L338.80,184.20 L339.70,183.24 L340.60,183.60 L341.80,184.20 L342.70,184.60 L343.60,185.10 L344.85,185.72 L346.10,185.10 L347.15,186.66 L348.20,187.80 L349.25,187.01 L350.30,185.10 L351.80,187.20 L353.00,188.70 L354.50,191.80 L356.10,190.50 L357.60,188.70 L359.40,188.10 L360.90,189.00 L362.10,186.60 L363.00,189.90 L363.90,191.80 L365.00,191.41 L366.10,192.10 L367.30,192.06 L368.50,192.10 L369.40,191.75 L370.30,192.10 L371.50,192.91 L372.70,193.60 L373.95,194.00 L375.20,194.20 L376.40,193.72 L377.60,194.60 L379.40,196.80 L380.70,199.50 L381.60,200.90 L382.10,197.70 L383.50,196.80 L384.40,196.65 L385.30,197.30 L386.60,199.50 L387.50,197.70 L388.90,198.20 L390.30,201.80 L391.20,202.64 L392.10,204.10 L393.00,206.40 L394.40,210.00 L396.50,218.80 L398.40,229.70 L399.70,240.00 L400.30,247.30 L401.20,255.80 L402.10,263.00 L403.30,269.10 L403.90,273.30 L404.50,273.00 L405.20,269.10 L405.80,263.00 L406.10,255.80 L406.70,247.30 L407.00,240.00 L407.40,231.80 L407.60,221.20 L408.30,213.80 L409.50,210.10 L411.70,208.50 L413.80,210.60 L415.90,212.70 L417.50,214.80 L419.10,218.00 L420.70,219.60 L421.50,224.40 L421.70,232.90 L422.30,224.00 L422.80,221.20 L423.90,219.10 L425.20,218.88 L426.50,217.50 L427.55,217.07 L428.60,215.90 L429.70,215.17 L430.80,215.40 L432.30,216.40 L433.70,211.70" fill="none" stroke="#111" stroke-width="1.4" stroke-dasharray="6.6 2.9 1.1 3.1" stroke-dashoffset="6.85" stroke-linejoin="round"/>
<rect x="291.6" y="179.05" width="158.40" height="117.25" fill="none" stroke="#262626" stroke-width="1.3"/>
<line x1="291.60" y1="296.3" x2="291.60" y2="294.7" stroke="#262626" stroke-width="1"/>
<line x1="291.60" y1="179.05" x2="291.60" y2="180.65" stroke="#262626" stroke-width="1"/>
<line x1="291.6" y1="296.30" x2="293.20000000000005" y2="296.30" stroke="#262626" stroke-width="1"/>
<line x1="322.50" y1="296.3" x2="322.50" y2="294.7" stroke="#262626" stroke-width="1"/>
<line x1="322.50" y1="179.05" x2="322.50" y2="180.65" stroke="#262626" stroke-width="1"/>
<line x1="291.6" y1="272.85" x2="293.20000000000005" y2="272.85" stroke="#262626" stroke-width="1"/>
<line x1="355.30" y1="296.3" x2="355.30" y2="294.7" stroke="#262626" stroke-width="1"/>
<line x1="355.30" y1="179.05" x2="355.30" y2="180.65" stroke="#262626" stroke-width="1"/>
<line x1="291.6" y1="249.40" x2="293.20000000000005" y2="249.40" stroke="#262626" stroke-width="1"/>
<line x1="387.05" y1="296.3" x2="387.05" y2="294.7" stroke="#262626" stroke-width="1"/>
<line x1="387.05" y1="179.05" x2="387.05" y2="180.65" stroke="#262626" stroke-width="1"/>
<line x1="291.6" y1="225.95" x2="293.20000000000005" y2="225.95" stroke="#262626" stroke-width="1"/>
<line x1="418.90" y1="296.3" x2="418.90" y2="294.7" stroke="#262626" stroke-width="1"/>
<line x1="418.90" y1="179.05" x2="418.90" y2="180.65" stroke="#262626" stroke-width="1"/>
<line x1="291.6" y1="202.50" x2="293.20000000000005" y2="202.50" stroke="#262626" stroke-width="1"/>
<line x1="450.00" y1="296.3" x2="450.00" y2="294.7" stroke="#262626" stroke-width="1"/>
<line x1="450.00" y1="179.05" x2="450.00" y2="180.65" stroke="#262626" stroke-width="1"/>
<line x1="291.6" y1="179.05" x2="293.20000000000005" y2="179.05" stroke="#262626" stroke-width="1"/>
<line x1="450.0" y1="179.05" x2="448.4" y2="179.05" stroke="#262626" stroke-width="1"/>
<line x1="450.0" y1="208.36" x2="448.4" y2="208.36" stroke="#262626" stroke-width="1"/>
<line x1="450.0" y1="237.68" x2="448.4" y2="237.68" stroke="#262626" stroke-width="1"/>
<line x1="450.0" y1="266.99" x2="448.4" y2="266.99" stroke="#262626" stroke-width="1"/>
<line x1="450.0" y1="296.30" x2="448.4" y2="296.30" stroke="#262626" stroke-width="1"/>
<text x="291.10" y="311.90" font-size="10.2" text-anchor="middle">0</text>
<text x="287.00" y="300.70" font-size="10.2" text-anchor="end">0</text>
<text x="322.35" y="311.90" font-size="10.2" text-anchor="middle">200</text>
<text x="287.00" y="277.25" font-size="10.2" text-anchor="end">20</text>
<text x="354.30" y="311.90" font-size="10.2" text-anchor="middle">400</text>
<text x="287.00" y="253.80" font-size="10.2" text-anchor="end">40</text>
<text x="386.40" y="311.90" font-size="10.2" text-anchor="middle">600</text>
<text x="287.00" y="230.35" font-size="10.2" text-anchor="end">60</text>
<text x="418.50" y="311.90" font-size="10.2" text-anchor="middle">800</text>
<text x="287.00" y="206.90" font-size="10.2" text-anchor="end">80</text>
<text x="451.10" y="311.90" font-size="10.2" text-anchor="middle">1000</text>
<text x="287.00" y="183.45" font-size="10.2" text-anchor="end">100</text>
<text x="454.10" y="183.45" font-size="10.2" text-anchor="start">0</text>
<text x="454.10" y="213.36" font-size="10.2" text-anchor="start">-0.02</text>
<text x="454.10" y="242.68" font-size="10.2" text-anchor="start">-0.04</text>
<text x="454.10" y="271.99" font-size="10.2" text-anchor="start">-0.06</text>
<text x="454.10" y="301.30" font-size="10.2" text-anchor="start">-0.08</text>
<text x="371.30" y="326.20" font-size="11.55" text-anchor="middle">Temperature [°C]</text>
<text x="265.20" y="237.68" font-size="11.35" text-anchor="middle" transform="rotate(-90 265.20 237.68)">Weight [%]</text>
<text x="492.30" y="237.88" font-size="11.55" text-anchor="middle" transform="rotate(-90 492.30 237.88)">Deriv. weight [%/°C]</text>
<text x="370.90" y="174.75" font-size="11.5" text-anchor="middle" font-weight="bold">d</text>
<rect x="591.5" y="220.5" width="63" height="26.5" fill="#fff" stroke="#262626" stroke-width="1"/>
<line x1="594.6" y1="227.5" x2="629" y2="227.5" stroke="#111" stroke-width="1.2"/>
<line x1="594.6" y1="240.8" x2="629" y2="240.8" stroke="#111" stroke-width="1.2" stroke-dasharray="6.6 2.9 1.1 3.1"/>
<text x="632" y="231.2" font-size="9.6" text-anchor="start">TG</text>
<text x="632" y="243.3" font-size="9.6" text-anchor="start" letter-spacing="-0.35">DTG</text>
</g>
</svg>
</body></html>
